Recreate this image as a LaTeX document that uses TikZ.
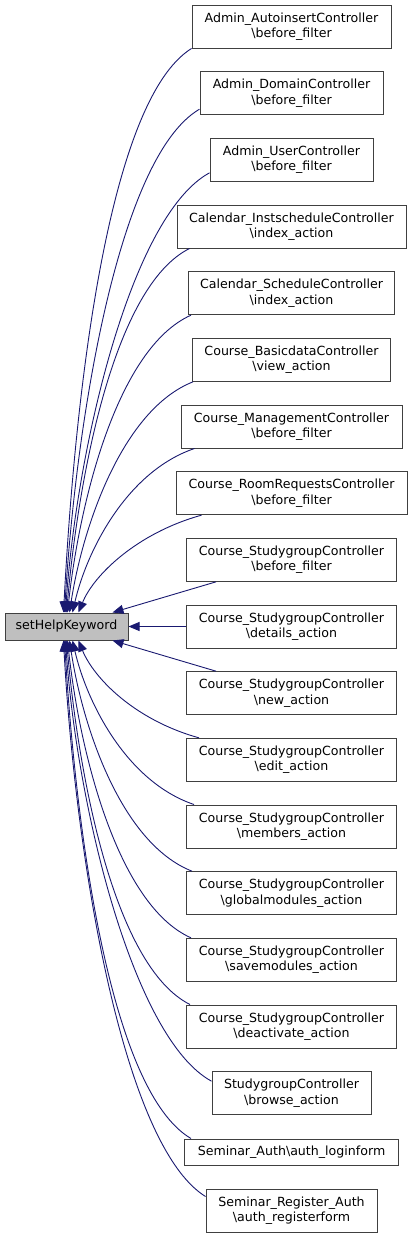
\documentclass[tikz,border=0pt]{standalone}
\usepackage{fontspec}
\newfontfamily\dv{DejaVu Sans}
\usetikzlibrary{arrows.meta}
\definecolor{midnight}{RGB}{25,25,112}
\definecolor{bordergray}{RGB}{64,64,64}
\definecolor{hlgray}{RGB}{191,191,191}
\tikzset{
  box/.style={draw=bordergray, line width=1pt, fill=white, inner sep=0pt,
    minimum height=43pt, align=center, font=\dv\fontsize{12.6}{15.5}\selectfont},
  hbox/.style={box, fill=hlgray, minimum height=27pt, minimum width=123pt},
  edge/.style={draw=midnight, line width=0.9pt, -{Triangle[length=11pt,width=9pt]}}
}
\begin{document}
\begin{tikzpicture}[x=1pt,y=-1pt]
\useasboundingbox (0,0) rectangle (413,1237);
% nodes
\node[hbox] (help) at (66.5,626.5) {setHelpKeyword};
\node[box, minimum width=199pt] (n1) at (291.5,26.5) {Admin\_AutoinsertController\\\textbackslash before\_filter};
\node[box, minimum width=183pt] (n2) at (291.5,93.17) {Admin\_DomainController\\\textbackslash before\_filter};
\node[box, minimum width=163pt] (n3) at (291.5,159.83) {Admin\_UserController\\\textbackslash before\_filter};
\node[box, minimum width=229pt] (n4) at (291.5,226.5) {Calendar\_InstscheduleController\\\textbackslash index\_action};
\node[box, minimum width=206pt] (n5) at (291.5,293.17) {Calendar\_ScheduleController\\\textbackslash index\_action};
\node[box, minimum width=198pt] (n6) at (291.5,359.83) {Course\_BasicdataController\\\textbackslash view\_action};
\node[box, minimum width=221pt] (n7) at (291.5,426.5) {Course\_ManagementController\\\textbackslash before\_filter};
\node[box, minimum width=231pt] (n8) at (291.5,493.17) {Course\_RoomRequestsController\\\textbackslash before\_filter};
\node[box, minimum width=210pt] (n9) at (291.5,559.83) {Course\_StudygroupController\\\textbackslash before\_filter};
\node[box, minimum width=210pt] (n10) at (291.5,626.5) {Course\_StudygroupController\\\textbackslash details\_action};
\node[box, minimum width=210pt] (n11) at (291.5,693.17) {Course\_StudygroupController\\\textbackslash new\_action};
\node[box, minimum width=210pt] (n12) at (291.5,759.83) {Course\_StudygroupController\\\textbackslash edit\_action};
\node[box, minimum width=210pt] (n13) at (291.5,826.5) {Course\_StudygroupController\\\textbackslash members\_action};
\node[box, minimum width=210pt] (n14) at (291.5,893.17) {Course\_StudygroupController\\\textbackslash globalmodules\_action};
\node[box, minimum width=210pt] (n15) at (291.5,959.83) {Course\_StudygroupController\\\textbackslash savemodules\_action};
\node[box, minimum width=210pt] (n16) at (291.5,1026.5) {Course\_StudygroupController\\\textbackslash deactivate\_action};
\node[box, minimum width=159pt] (n17) at (291.5,1093.17) {StudygroupController\\\textbackslash browse\_action};
\node[box, minimum width=214pt, minimum height=26pt] (n18) at (291.5,1152) {Seminar\_Auth\textbackslash auth\_loginform};
\node[box, minimum width=171pt] (n19) at (291.5,1210.5) {Seminar\_Register\_Auth\\\textbackslash auth\_registerform};
% edges to the top of setHelpKeyword
\draw[edge] (n1.south west) .. controls +(-85,53) and +(11,-210) .. ([xshift=59pt]help.north west);
\draw[edge] ([yshift=6pt]n2.south west) .. controls +(-82,48) and +(11,-187) .. ([xshift=60pt]help.north west);
\draw[edge] ([yshift=9pt]n3.south west) .. controls +(-79,43) and +(11,-163) .. ([xshift=61pt]help.north west);
\draw[edge] ([xshift=13pt]n4.south west) .. controls +(-76,38) and +(12,-135) .. ([xshift=62pt]help.north west);
\draw[edge] ([xshift=3pt]n5.south west) .. controls +(-74,33) and +(12,-110) .. ([xshift=63pt]help.north west);
\draw[edge] ([xshift=1pt]n6.south west) .. controls +(-71,28) and +(13,-85) .. ([xshift=65pt]help.north west);
\draw[edge] ([xshift=14pt]n7.south west) .. controls +(-68,23) and +(14,-61) .. ([xshift=68pt]help.north west);
\draw[edge] ([xshift=26pt]n8.south west) .. controls +(-65,18) and +(15,-37) .. ([xshift=74pt]help.north west);
\draw[edge] ([xshift=30pt]n9.south west) -- ([xshift=-16pt]help.north east);
% middle
\draw[edge] (n10.west) -- (help.east);
% edges to the bottom of setHelpKeyword
\draw[edge] ([xshift=30pt]n11.north west) -- ([xshift=-16pt]help.south east);
\draw[edge] ([xshift=13pt]n12.north west) .. controls +(-65,-18) and +(15,37) .. ([xshift=74pt]help.south west);
\draw[edge] ([xshift=8pt]n13.north west) .. controls +(-68,-23) and +(14,61) .. ([xshift=68pt]help.south west);
\draw[edge] ([xshift=6pt]n14.north west) .. controls +(-71,-28) and +(13,86) .. ([xshift=65pt]help.south west);
\draw[edge] ([xshift=5pt]n15.north west) .. controls +(-74,-33) and +(12,110) .. ([xshift=63pt]help.south west);
\draw[edge] ([xshift=4pt]n16.north west) .. controls +(-76,-38) and +(12,135) .. ([xshift=62pt]help.south west);
\draw[edge] ([yshift=-10pt]n17.north west) .. controls +(-79,-43) and +(11,163) .. ([xshift=61pt]help.south west);
\draw[edge] ([xshift=7pt]n18.north west) .. controls +(-82,-48) and +(11,185) .. ([xshift=60pt]help.south west);
\draw[edge] ([yshift=-8pt]n19.north west) .. controls +(-85,-53) and +(11,206) .. ([xshift=59pt]help.south west);
\end{tikzpicture}
\end{document}
